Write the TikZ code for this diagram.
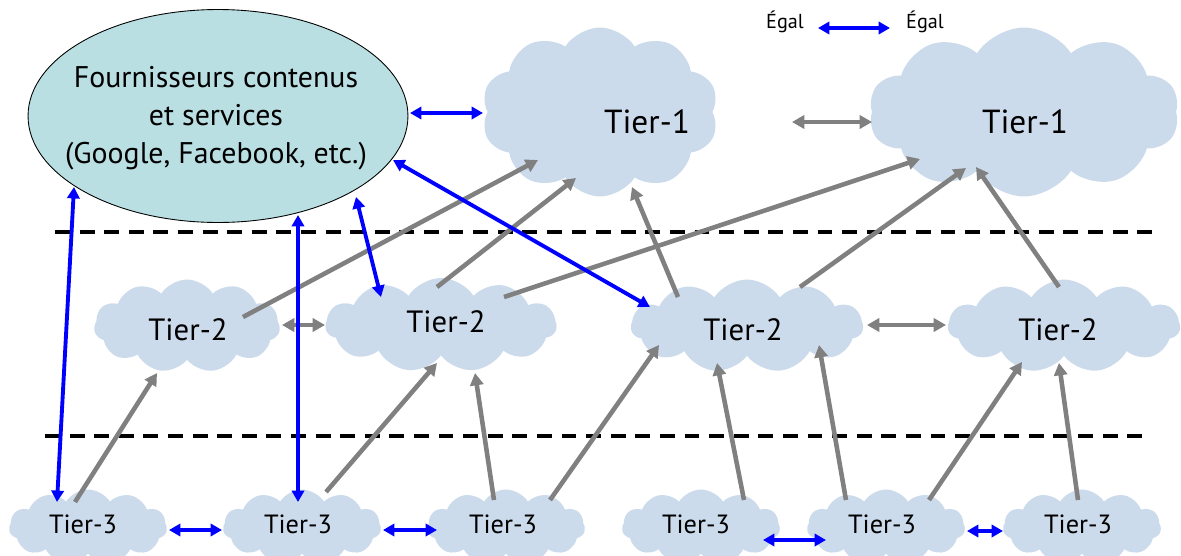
\documentclass[tikz,border=0pt]{standalone}
\usepackage{fontspec}
\setmainfont{PT Sans}
\usetikzlibrary{shapes.symbols,shapes.geometric,arrows.meta,calc}
\definecolor{cloudc}{HTML}{CCDBEB}
\definecolor{ellc}{HTML}{B9DFE2}
\definecolor{grayc}{HTML}{808080}
\begin{document}
\begin{tikzpicture}[x=0.02cm,y=-0.02cm,
  cloudy/.style={cloud, cloud puffs=11, cloud puff arc=115, fill=cloudc, draw=none, inner sep=0pt},
  lbl/.style={inner sep=0pt, font=\fontsize{17.5}{20}\selectfont},
  gr/.style={draw=grayc, line width=2.6pt, -{Triangle[length=7pt,width=7.5pt]}},
  grd/.style={draw=grayc, line width=2.6pt, {Triangle[length=7pt,width=7.5pt]}-{Triangle[length=7pt,width=7.5pt]}},
  bl/.style={draw=blue, line width=2.2pt, {Triangle[length=6.5pt,width=7pt]}-{Triangle[length=6.5pt,width=7pt]}},
  sep/.style={line width=2.2pt, dash pattern=on 8.5pt off 5.5pt}]
\useasboundingbox (0,0) rectangle (1181,555);
% ellipse
\node[ellipse, draw=black, line width=0.5pt, fill=ellc, minimum width=7.6cm, minimum height=4.26cm, inner sep=0pt] (ell) at (218,116) {};
\node[align=center, font=\fontsize{17}{21.5}\selectfont, inner sep=0pt] (elltxt) at (216,118) {Fournisseurs contenus\\et services\\(Google, Facebook, etc.)};
% tier 1
\node[cloudy, cloud puffs=10, minimum width=4.74cm, minimum height=3.38cm] (t1a) at (600,112) {};
\node[cloudy, cloud puffs=10, minimum width=6.2cm, minimum height=3.38cm] (t1b) at (1024,112) {};
\node[lbl, font=\fontsize{19}{22}\selectfont] (t1al) at (647,122) {Tier-1};
\node[lbl, font=\fontsize{19}{22}\selectfont] (t1bl) at (1025,122) {Tier-1};
% tier 2
\node[cloudy, minimum width=3.72cm, minimum height=1.86cm] (t2a) at (187,326) {};
\node[cloudy, minimum width=4.62cm, minimum height=1.88cm] (t2b) at (441,325) {};
\node[cloudy, minimum width=4.64cm, minimum height=1.86cm] (t2c) at (747,326) {};
\node[cloudy, minimum width=4.64cm, minimum height=1.86cm] (t2d) at (1064,326) {};
\node[lbl] (t2al) at (188,330) {Tier-2};
\node[lbl] (t2bl) at (446,322) {Tier-2};
\node[lbl] (t2cl) at (743,330) {Tier-2};
\node[lbl] (t2dl) at (1058,330) {Tier-2};
% tier 3
\foreach \n/\x/\tx in {t3a/88/83, t3b/302/298, t3c/506/503, t3d/701/696, t3e/886/882, t3f/1082/1078}{
  \node[cloudy, minimum width=3.16cm, minimum height=1.5cm] (\n) at (\x,527) {};
  \node[lbl, font=\fontsize{15}{17}\selectfont] (\n l) at (\tx,524) {Tier-3};
}
% dashed separators
\coordinate (s1a) at (55,232); \coordinate (s1b) at (1155,232);
\coordinate (s2a) at (45,436); \coordinate (s2b) at (1143,436);
\draw[sep] (s1a) -- (s1b);
\draw[sep] (s2a) -- (s2b);
% legend
\node[lbl, font=\fontsize{11.5}{13}\selectfont] (lg1) at (785,22) {Égal};
\node[lbl, font=\fontsize{11.5}{13}\selectfont] (lg2) at (925,22) {Égal};
\draw[bl] ($(lg1)+(33,6)$) -- ($(lg2)+(-35,6)$);
% gray single arrows
\draw[gr] ($(t2a)+(56,-9)$) -- ($(t1a)+(-62,48)$);
\draw[gr] ($(t2b)+(-4,-38)$) -- ($(t1a)+(-24,66)$);
\draw[gr] ($(t2b)+(63,-28)$) -- ($(t1b)+(-104,47)$);
\draw[gr] ($(t2c)+(-69,-29)$) -- ($(t1a)+(32,75)$);
\draw[gr] ($(t2c)+(53,-39)$) -- ($(t1b)+(-58,56)$);
\draw[gr] ($(t2d)+(-5,-39)$) -- ($(t1b)+(-48,55)$);
\draw[gr] ($(t3a)+(-13,-25)$) -- ($(t2a)+(-30,47)$);
\draw[gr] ($(t3b)+(24,-35)$) -- ($(t2b)+(-4,38)$);
\draw[gr] ($(t3c)+(-12,-27)$) -- ($(t2b)+(34,48)$);
\draw[gr] ($(t3c)+(44,-27)$) -- ($(t2c)+(-88,19)$);
\draw[gr] ($(t3d)+(43,-27)$) -- ($(t2c)+(-30,37)$);
\draw[gr] ($(t3e)+(-40,-27)$) -- ($(t2c)+(72,19)$);
\draw[gr] ($(t3e)+(43,-27)$) -- ($(t2d)+(-42,36)$);
\draw[gr] ($(t3f)+(-4,-27)$) -- ($(t2d)+(-5,37)$);
% gray double arrows
\draw[grd] ($(t1a)+(192,10)$) -- ($(t1b)+(-152,10)$);
\draw[grd] ($(t2a)+(95,-1)$) -- ($(t2b)+(-116,0)$);
\draw[grd] ($(t2c)+(120,-1)$) -- ($(t2d)+(-118,-1)$);
% blue double arrows
\draw[bl] ($(ell)+(192,-3)$) -- ($(t1a)+(-117,1)$);
\draw[bl] ($(ell)+(-144,71)$) -- ($(t3a)+(-31,-25)$);
\draw[bl] ($(ell)+(80,99)$) -- ($(t3b)+(-4,-25)$);
\draw[bl] ($(ell)+(138,81)$) -- ($(t2b)+(-60,-28)$);
\draw[bl] ($(ell)+(175,44)$) -- ($(t2c)+(-97,-19)$);
\draw[bl] ($(t3a)+(81,3)$) -- ($(t3b)+(-80,3)$);
\draw[bl] ($(t3b)+(81,3)$) -- ($(t3c)+(-69,3)$);
\draw[bl] ($(t3d)+(62,13)$) -- ($(t3e)+(-60,13)$);
\draw[bl] ($(t3e)+(81,4)$) -- ($(t3f)+(-79,4)$);
\end{tikzpicture}
\end{document}
